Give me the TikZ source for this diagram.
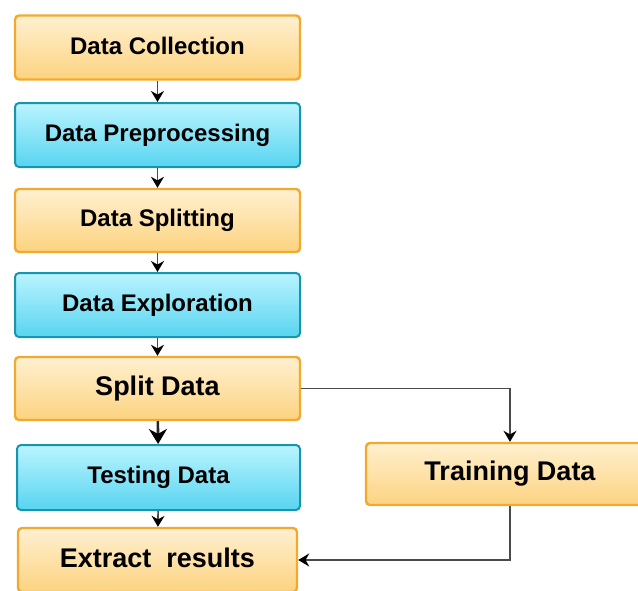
\documentclass[tikz,border=0pt]{standalone}
\usepackage{fontspec}
\setmainfont{Liberation Sans}
\usetikzlibrary{arrows.meta,calc}
\definecolor{ortop}{HTML}{FFF0D0}
\definecolor{orbot}{HTML}{FCD380}
\definecolor{orline}{HTML}{F2AA2E}
\definecolor{cytop}{HTML}{BAF4FF}
\definecolor{cybot}{HTML}{58D4F0}
\definecolor{cyline}{HTML}{1895AC}
\definecolor{linkgray}{HTML}{4A4A4A}
\tikzset{
  stage/.style={rectangle, rounded corners=4pt, inner sep=0pt, font=\bfseries\fontsize{24}{28}\selectfont},
  orstage/.style={stage, draw=orline, line width=2.4pt, top color=ortop, bottom color=orbot},
  cystage/.style={stage, draw=cyline, line width=2pt, top color=cytop, bottom color=cybot},
  big/.style={font=\bfseries\fontsize{27}{31}\selectfont},
  link/.style={draw=linkgray, line width=1.6pt, -{Stealth[length=11pt,width=13pt,black]}},
  biglink/.style={draw=black!85, line width=2.6pt, -{Stealth[length=15pt,width=18pt,black]}}
}
\begin{document}
\begin{tikzpicture}[x=1pt,y=-1pt]
    \pgfmathsetmacro{\w}{285};
    \pgfmathsetmacro{\h}{64};
    \useasboundingbox (0,0) rectangle (638,590);
    \clip (0,0) rectangle (638,590);

    \node[orstage, minimum width=\w, minimum height=\h] (collect) at (157.5,47.5) {\raisebox{3pt}{Data Collection}};
    \node[cystage, minimum width=\w, minimum height=\h] (prep) at (157.5,135) {\raisebox{2pt}{Data Preprocessing}};
    \node[orstage, minimum width=\w, minimum height=\h-1] (splitting) at (157.5,220.5) {\raisebox{2pt}{Data Splitting}};
    \node[cystage, minimum width=\w, minimum height=\h] (explore) at (157.5,305) {\raisebox{2pt}{Data Exploration}};
    \node[orstage, big, minimum width=\w, minimum height=\h-1] (split) at (157.5,388.5) {\raisebox{4pt}{Split Data}};
    \node[cystage, minimum width=\w-2, minimum height=\h+1] (test) at (158.5,477.5) {\raisebox{3pt}{Testing Data}};
    \node[orstage, big, minimum width=\w-6, minimum height=\h] (extract) at (157.5,560) {\raisebox{5pt}{Extract\ \ results}};
    \node[orstage, big, minimum width=288, minimum height=\h-2] (train) at (510,474) {\raisebox{2pt}{Training Data}};

    \draw[link] (collect) -- (prep);
    \draw[link] (prep) -- (splitting);
    \draw[link] (splitting) -- (explore);
    \draw[link] (explore) -- (split);
    \draw[biglink] (split) -- (test);
    \draw[link] (test) -- (extract);
    \draw[link] (split.east) -| (train.north);
    \draw[link] (train.south) |- (extract.east);
\end{tikzpicture}
\end{document}
